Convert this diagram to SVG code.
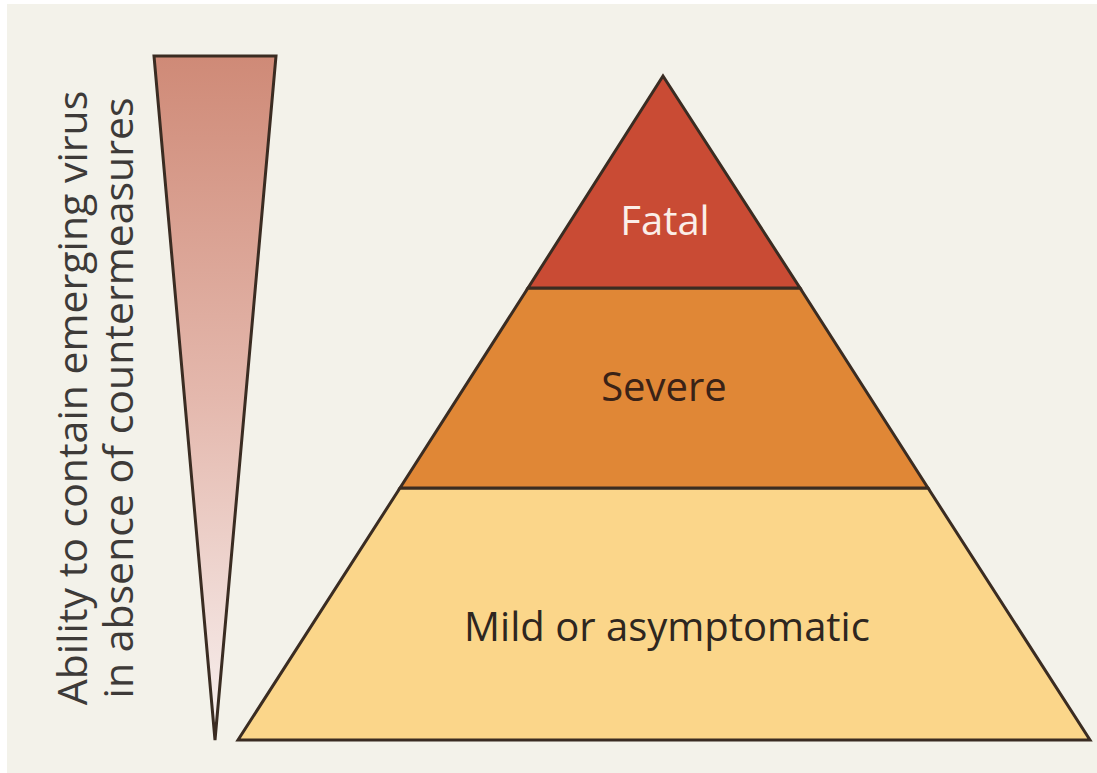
<svg xmlns="http://www.w3.org/2000/svg" width="1097" height="773" viewBox="0 0 1097 773">
<defs>
<linearGradient id="grad" x1="0" y1="56" x2="0" y2="740" gradientUnits="userSpaceOnUse">
<stop offset="0" stop-color="#cf8a77"/>
<stop offset="0.5" stop-color="#e4b8ad"/>
<stop offset="1" stop-color="#f8f1f0"/>
</linearGradient>
<style>
.edge{stroke:#3a2c22;stroke-width:3;stroke-linejoin:miter}
.lbl{font-family:"Open Sans","Noto Sans",sans-serif;font-size:40px;text-anchor:middle}
.vlbl{font-family:"Open Sans","Noto Sans",sans-serif;font-size:41px;text-anchor:middle}
</style>
</defs>
<rect width="1097" height="773" fill="#ffffff"/>
<rect x="7" y="4" width="1090" height="769" fill="#f3f2ea"/>
<g id="scale-wedge">
<polygon class="edge" points="154,56 276,56 215,740" fill="url(#grad)"/>
</g>
<g id="axis-label">
<text class="vlbl" fill="#3d3a38" transform="translate(87,398) rotate(-90)">Ability to contain emerging virus</text>
<text class="vlbl" fill="#3d3a38" transform="translate(133,398) rotate(-90)">in absence of countermeasures</text>
</g>
<g id="mild">
<polygon class="edge" points="400,488 928,488 1090,740 238,740" fill="#fbd68a"/>
<text class="lbl" fill="#2e2620" x="667" y="641">Mild or asymptomatic</text>
</g>
<g id="severe">
<polygon class="edge" points="528,288 800,288 928,488 400,488" fill="#e08736"/>
<text class="lbl" fill="#3a2216" x="664" y="401">Severe</text>
</g>
<g id="fatal">
<polygon class="edge" points="663,76 800,288 528,288" fill="#c94b34"/>
<text class="lbl" fill="#fbeee8" x="665" y="235">Fatal</text>
</g>
</svg>
